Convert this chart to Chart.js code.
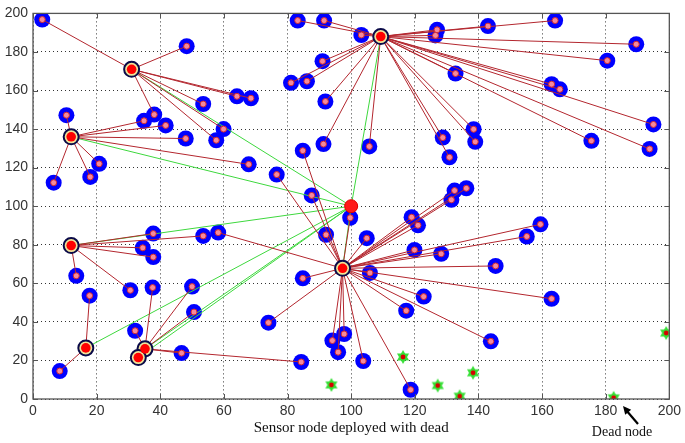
<!DOCTYPE html>
<html>
<head>
<meta charset="utf-8">
<script src="https://cdn.jsdelivr.net/npm/chart.js@4/dist/chart.umd.min.js"></script>
<style>
  html, body { margin: 0; padding: 0; background: #fff; }
  canvas { display: block; }
</style>
</head>
<body>
<canvas id="net" width="685" height="443"></canvas>
<script>
// sink (base station)
const sinkX = [100];
const sinkY = [100];

// cluster heads
const headX = [31, 12, 109.3, 12, 16.6, 35.2, 33.1, 97.3];
const headY = [171, 136, 188, 79.6, 26.5, 26, 21.5, 67.8];

// member nodes and the head (index) they report to
const memberX = [
  2.9, 48.3, 53.5, 38.1, 57.6, 59.9, 64.1, 68.5,
  10.5, 34.9, 41.7, 48, 20.8, 18, 6.5, 67.8,
  83.2, 91.5, 103.2, 91, 81.1, 86.1, 91.9, 91.3, 105.7, 127, 126.5, 128.8, 130.9,
  132.8, 143, 164.1, 189.6, 180.5, 163, 165.6, 195, 175.5, 193.8, 138.5, 139,
  37.8, 34.5, 37.8, 53.5, 13.6, 30.6,
  17.8, 8.4,
  37.6, 50, 50.6, 46.7, 84.3, 32.1,
  84.8, 76.6, 87.6, 99.7, 92.1, 104.9, 119, 121, 132.5, 136.2, 131.5, 119.9, 128.3,
  84.8, 105.9, 122.8, 117.3, 159.5, 155.2, 145.4, 163, 143.9, 74, 94.1, 97.8, 95.9,
  103.8, 118.7, 58.2
];
const memberY = [
  196.8, 183, 153, 147.5, 134.2, 140, 157, 156,
  147.2, 144.3, 141.9, 135.1, 122, 115.2, 112.2, 121.7,
  196.3, 196.3, 188.8, 175.2, 164, 164.8, 154.3, 132.2, 131, 191.5, 188.6, 135.6, 125.4,
  168.8, 193.4, 196.3, 184, 175.5, 163.3, 160.6, 142.4, 133.9, 129.7, 139.9, 133.4,
  85.8, 78.4, 73.6, 84.6, 63.9, 56.4,
  53.6, 14.5,
  57.8, 58.3, 45.1, 23.8, 19.2, 35.4,
  128.8, 116.4, 105.6, 94, 85.2, 83.4, 94.3, 90.1, 108.1, 109.3, 103.3, 77.3, 75.3,
  62.6, 65.4, 53.1, 45.8, 90.6, 84.3, 69, 52, 29.9, 39.6, 30.3, 33.7, 24.3,
  19.7, 4.8, 86.3
];
const memberHead = [
  0, 0, 0, 0, 0, 0, 0, 0,
  1, 1, 1, 1, 1, 1, 1, 1,
  2, 2, 2, 2, 2, 2, 2, 2, 2, 2, 2, 2, 2,
  2, 2, 2, 2, 2, 2, 2, 2, 2, 2, 2, 2,
  3, 3, 3, 3, 3, 3,
  4, 4,
  5, 5, 5, 5, 5, 5,
  7, 7, 7, 7, 7, 7, 7, 7, 7, 7, 7, 7, 7,
  7, 7, 7, 7, 7, 7, 7, 7, 7, 7, 7, 7, 7,
  7, 7, 7
];

// dead nodes
const deadX = [93.8, 116.3, 127.2, 134.1, 138.3, 182.5, 199];
const deadY = [7.3, 21.8, 7, 1.4, 13.6, 0.6, 34.2];

const xTicks = [0, 20, 40, 60, 80, 100, 120, 140, 160, 180, 200];
const yTicks = [0, 20, 40, 60, 80, 100, 120, 140, 160, 180, 200];

const pts = (xs, ys) => xs.map((x, i) => ({ x: x, y: ys[i] }));

// green hexagram marker for dead nodes
function deadMarker() {
  const c = document.createElement('canvas');
  c.width = 18; c.height = 18;
  const g = c.getContext('2d');
  g.fillStyle = '#36e036';
  [0, Math.PI].forEach(rot => {
    g.beginPath();
    for (let k = 0; k < 3; k++) {
      const a = rot - Math.PI / 2 + k * 2 * Math.PI / 3;
      const px = 9 + 7 * Math.cos(a), py = 9 + 7 * Math.sin(a);
      k === 0 ? g.moveTo(px, py) : g.lineTo(px, py);
    }
    g.closePath();
    g.fill();
  });
  g.fillStyle = '#d80000';
  g.beginPath(); g.arc(9, 9, 2.4, 0, Math.PI * 2); g.fill();
  return c;
}

const datasets = [];

// red links member -> head
memberX.forEach((x, i) => {
  const h = memberHead[i];
  datasets.push({
    data: [{ x: headX[h], y: headY[h] }, { x: x, y: memberY[i] }],
    showLine: true, pointRadius: 0, borderColor: '#b3262e', borderWidth: 1, order: 5
  });
});
// green links head -> sink
headX.forEach((x, h) => {
  datasets.push({
    data: [{ x: x, y: headY[h] }, { x: sinkX[0], y: sinkY[0] }],
    showLine: true, pointRadius: 0, borderColor: '#3ed83e', borderWidth: 1, order: 5
  });
});

datasets.push({
  data: pts(memberX, memberY), pointRadius: 8, backgroundColor: '#0000ff',
  borderWidth: 0, order: 7
});
datasets.push({
  data: pts(memberX, memberY), pointRadius: 3, backgroundColor: '#f58a9c',
  borderColor: '#d02a30', borderWidth: 1, order: 4
});
datasets.push({
  data: pts(headX, headY), pointRadius: 7.5, backgroundColor: '#efe39a',
  borderColor: '#0a0a48', borderWidth: 2, order: 3
});
datasets.push({
  data: pts(headX, headY), pointRadius: 4.8, backgroundColor: '#ff0000',
  borderColor: '#ff0000', borderWidth: 0, order: 2
});
datasets.push({
  data: pts(sinkX, sinkY), pointRadius: 6.5, backgroundColor: '#ff1a1a',
  borderColor: '#e00000', borderWidth: 1, order: 1
});
datasets.push({
  data: pts(deadX, deadY), pointStyle: deadMarker(), pointRadius: 9, order: 1
});

// axes box, inward ticks and the texts under the axis
const frame = {
  id: 'frame',
  afterDraw(chart) {
    const { ctx, chartArea: a, scales } = chart;
    ctx.save();
    ctx.strokeStyle = '#555';
    ctx.lineWidth = 1.3;
    ctx.strokeRect(a.left, a.top, a.right - a.left, a.bottom - a.top);
    ctx.lineWidth = 1;
    ctx.beginPath();
    xTicks.forEach(v => {
      const p = Math.round(scales.x.getPixelForValue(v)) + 0.5;
      ctx.moveTo(p, a.bottom); ctx.lineTo(p, a.bottom - 5);
      ctx.moveTo(p, a.top); ctx.lineTo(p, a.top + 5);
    });
    yTicks.forEach(v => {
      const p = Math.round(scales.y.getPixelForValue(v)) + 0.5;
      ctx.moveTo(a.left, p); ctx.lineTo(a.left + 5, p);
      ctx.moveTo(a.right, p); ctx.lineTo(a.right - 5, p);
    });
    ctx.stroke();

    ctx.fillStyle = '#111';
    ctx.font = '15px "Liberation Serif", "Times New Roman", serif';
    ctx.textAlign = 'center';
    ctx.textBaseline = 'middle';
    ctx.fillText('Sensor node deployed with dead', (a.left + a.right) / 2, 428);
    ctx.font = '14px "Liberation Serif", "Times New Roman", serif';
    ctx.fillText('Dead node', 622, 432);

    // arrow to the dead node
    const tx = 623, ty = 406, sx = 638, sy = 424;
    ctx.strokeStyle = '#000';
    ctx.fillStyle = '#000';
    ctx.lineWidth = 2.2;
    ctx.beginPath(); ctx.moveTo(sx, sy); ctx.lineTo(tx + 3, ty + 4); ctx.stroke();
    const ang = Math.atan2(ty - sy, tx - sx);
    ctx.beginPath();
    ctx.moveTo(tx, ty);
    ctx.lineTo(tx - 9 * Math.cos(ang - 0.45), ty - 9 * Math.sin(ang - 0.45));
    ctx.lineTo(tx - 9 * Math.cos(ang + 0.45), ty - 9 * Math.sin(ang + 0.45));
    ctx.closePath();
    ctx.fill();
    ctx.restore();
  }
};

const tickFont = { family: '"Liberation Sans", Arial, sans-serif', size: 14 };
const gridOpts = { color: '#333', lineWidth: 1, drawTicks: false };

new Chart(document.getElementById('net'), {
  type: 'scatter',
  data: { datasets: datasets },
  options: {
    responsive: false,
    animation: false,
    events: [],
    layout: { padding: { top: 7, right: 13, left: 0, bottom: 0 } },
    plugins: { legend: { display: false }, tooltip: { enabled: false } },
    scales: {
      x: {
        min: 0, max: 200,
        afterFit: s => { s.height = 44; },
        afterBuildTicks: s => { s.ticks = xTicks.map(v => ({ value: v })); },
        ticks: { font: tickFont, color: '#333', padding: 4, maxRotation: 0 },
        grid: gridOpts,
        border: { display: false, dash: [1, 3] }
      },
      y: {
        min: 0, max: 200,
        afterFit: s => { s.width = 33; },
        afterBuildTicks: s => { s.ticks = yTicks.map(v => ({ value: v })); },
        ticks: { font: tickFont, color: '#333', padding: 5 },
        grid: gridOpts,
        border: { display: false, dash: [1, 3] }
      }
    }
  },
  plugins: [frame]
});
</script>
</body>
</html>
